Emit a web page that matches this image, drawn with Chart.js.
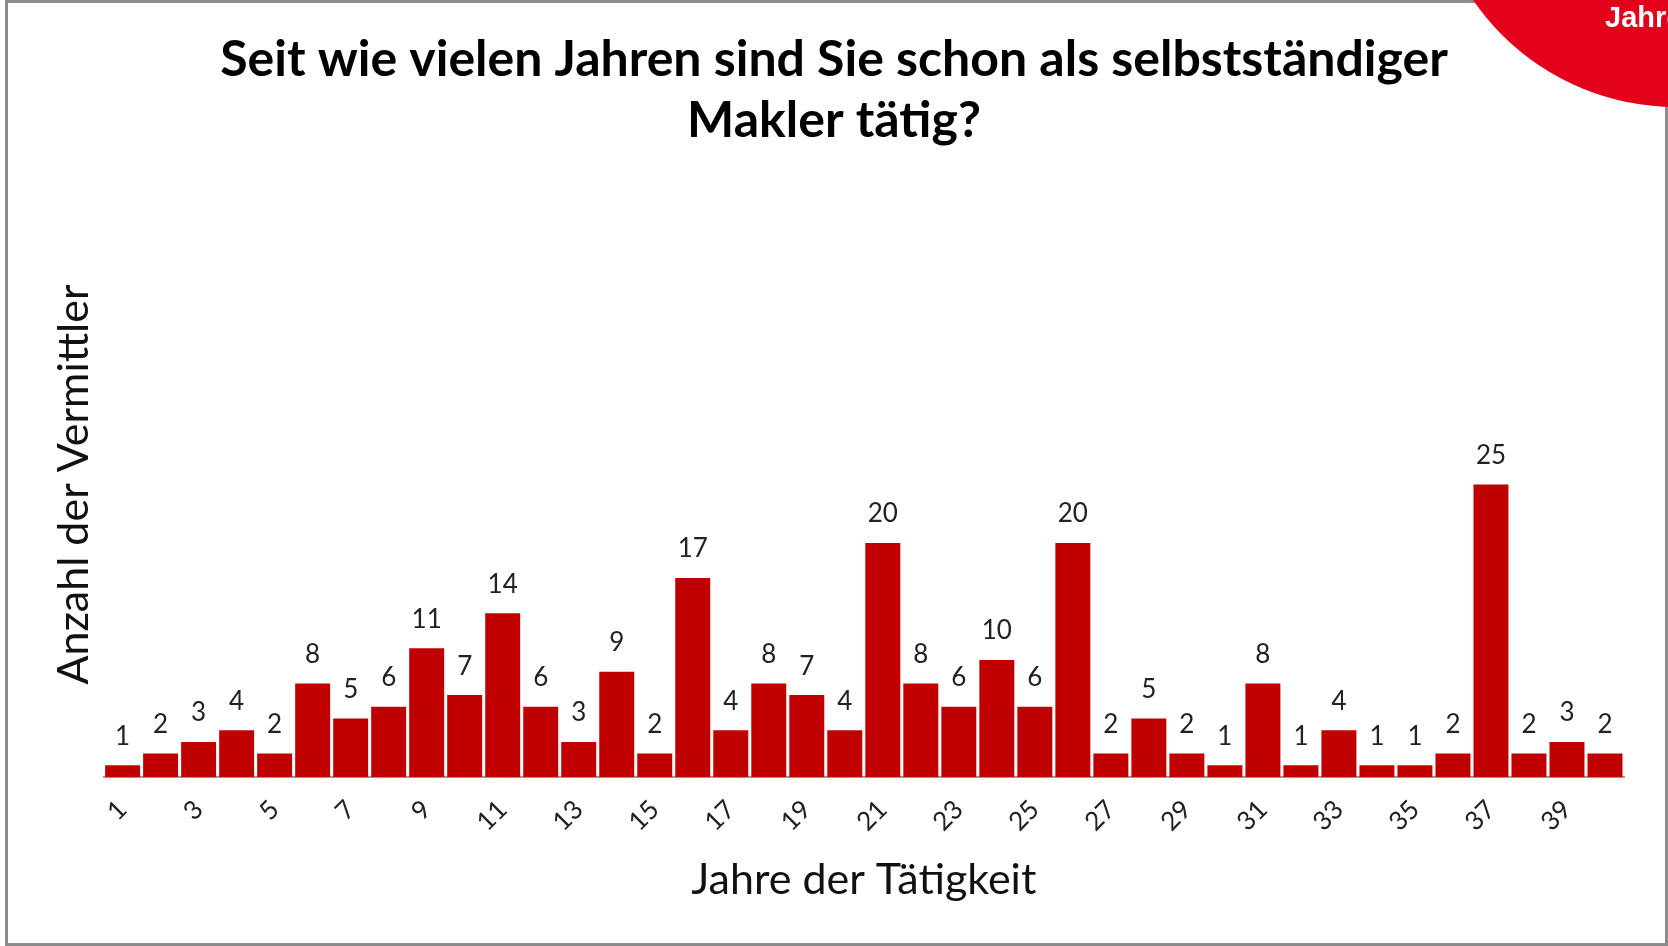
<!DOCTYPE html>
<html>
<head>
<meta charset="utf-8">
<script src="https://cdn.jsdelivr.net/npm/chart.js@4"></script>
<style>
  html, body { margin: 0; padding: 0; background: #fff; }
  #page { position: relative; width: 1668px; height: 946px; overflow: hidden; }
  #frame { position: absolute; left: 5px; top: 0; right: 0; bottom: 0; border: 3px solid #8c8c8c; }
  #badge { position: absolute; left: 1430px; top: -385px; width: 492px; height: 492px; border-radius: 50%; background: #e2001a; }
  #badgeText { position: absolute; left: 1605px; top: 1px; color: #fff; font: bold 29px "Liberation Sans", Arial, sans-serif; white-space: nowrap; }
  #wrap { position: absolute; left: 0; top: 0; width: 1668px; height: 946px; }
</style>
</head>
<body>
<div id="page">
  <div id="frame"></div>
  <div id="wrap"><canvas id="yearsChart"></canvas></div>
  <div id="badge"></div>
  <div id="badgeText">Jahre</div>
</div>
<script>
// data
const years = ['1','2','3','4','5','6','7','8','9','10','11','12','13','14','15','16','17','18','19','20',
               '21','22','23','24','25','26','27','28','29','30','31','32','33','34','35','36','37','38','39','40'];
const counts = [1, 2, 3, 4, 2, 8, 5, 6, 11, 7, 14, 6, 3, 9, 2, 17, 4, 8, 7, 4,
                20, 8, 6, 10, 6, 20, 2, 5, 2, 1, 8, 1, 4, 1, 1, 2, 25, 2, 3, 2];
const titleLines = ['Seit wie vielen Jahren sind Sie schon als selbstständiger', 'Makler tätig?'];

// value labels above bars
const barLabels = {
  id: 'barLabels',
  afterDatasetsDraw(chart) {
    const ctx = chart.ctx;
    const meta = chart.getDatasetMeta(0);
    ctx.save();
    ctx.font = '26px Lato, sans-serif';
    ctx.fillStyle = '#222';
    ctx.textAlign = 'center';
    ctx.textBaseline = 'bottom';
    meta.data.forEach((bar, i) => {
      ctx.fillText(counts[i], bar.x, bar.y - 16);
    });
    ctx.restore();
  }
};

new Chart(document.getElementById('yearsChart'), {
  type: 'bar',
  data: {
    labels: years,
    datasets: [{
      label: 'Anzahl',
      data: counts,
      backgroundColor: '#c00000',
      categoryPercentage: 1,
      barPercentage: 0.92
    }]
  },
  options: {
    responsive: true,
    maintainAspectRatio: false,
    animation: false,
    layout: { padding: { left: 44, right: 44, top: 29, bottom: 40 } },
    plugins: {
      legend: { display: false },
      tooltip: { enabled: false },
      title: {
        display: true,
        text: titleLines,
        color: '#000',
        font: { family: 'Lato, sans-serif', size: 50, weight: 'bold', lineHeight: 1.22 },
        padding: { top: 0, bottom: 41 }
      }
    },
    scales: {
      x: {
        grid: { display: false, drawTicks: false },
        border: { color: '#9a9a9a', width: 2 },
        ticks: {
          autoSkip: false,
          minRotation: 45,
          maxRotation: 45,
          padding: 17,
          color: '#222',
          font: { family: 'Lato, sans-serif', size: 26 },
          callback: (v, i) => (i % 2 === 0 ? years[i] : '')
        },
        title: {
          display: true,
          text: 'Jahre der Tätigkeit',
          color: '#111',
          font: { family: 'Lato, sans-serif', size: 43 },
          padding: { top: 0, bottom: 0 }
        }
      },
      y: {
        min: 0,
        max: 50,
        grid: { display: false, drawTicks: false },
        border: { display: false },
        ticks: { display: false },
        title: {
          display: true,
          text: 'Anzahl der Vermittler',
          color: '#111',
          font: { family: 'Lato, sans-serif', size: 43 },
          padding: { top: 4, bottom: 4 }
        }
      }
    }
  },
  plugins: [barLabels]
});
</script>
</body>
</html>
